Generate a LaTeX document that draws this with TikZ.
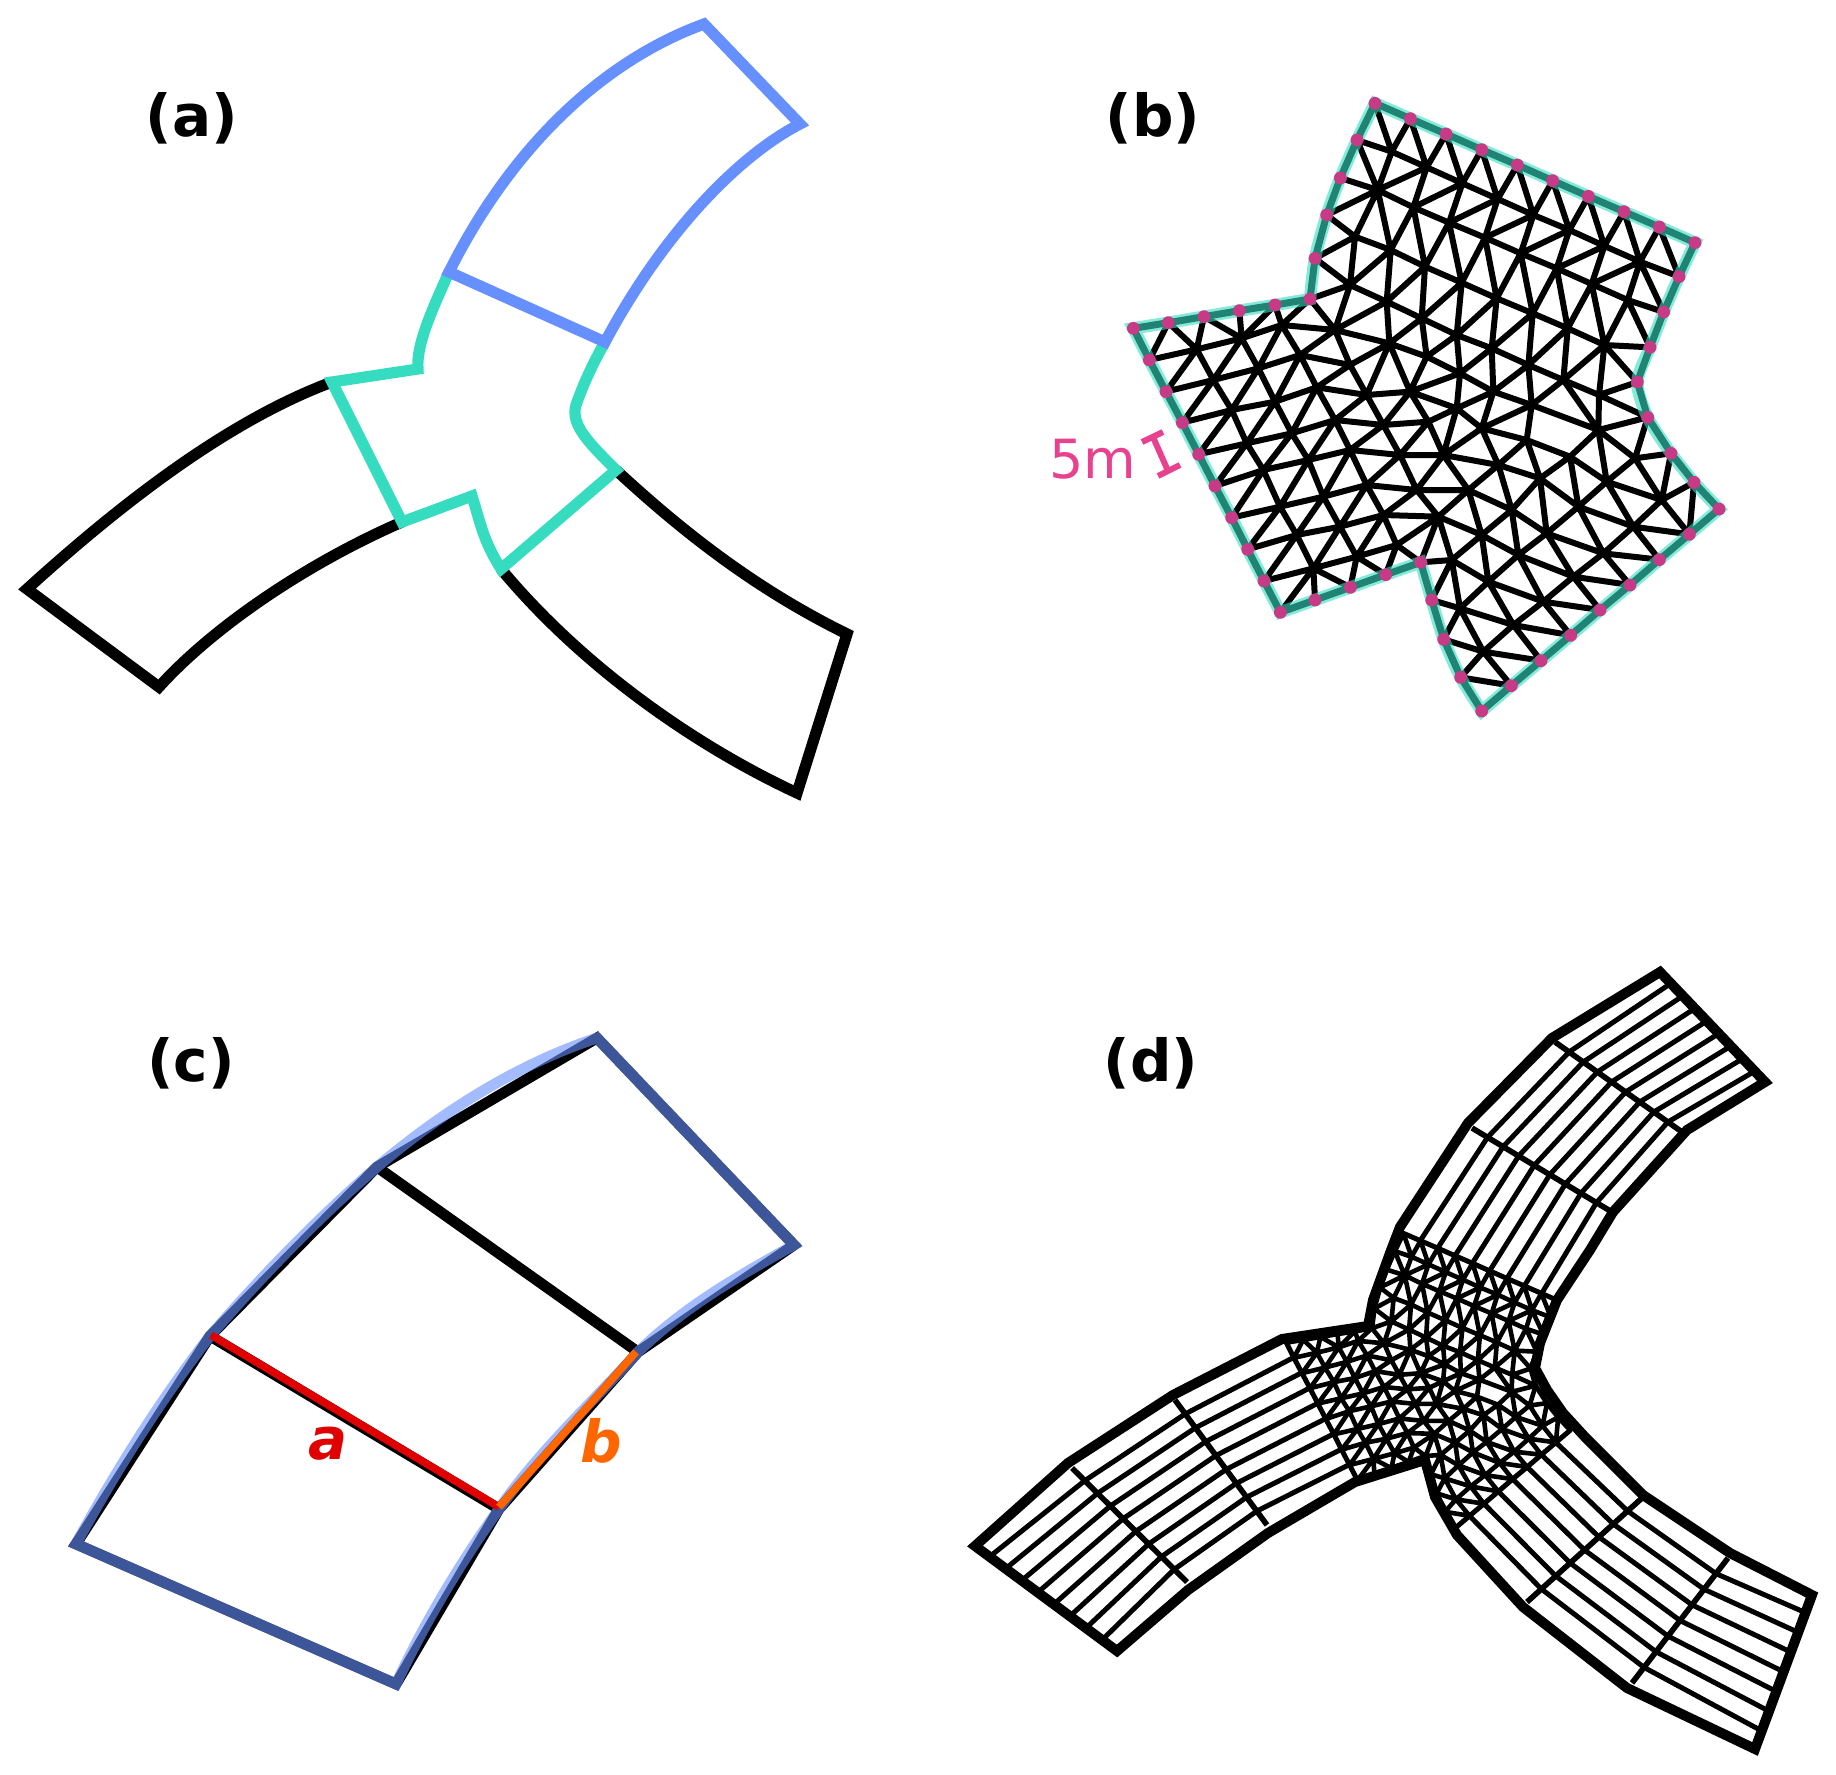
\documentclass[tikz,border=0pt]{standalone}
\usepackage{fontspec}
\setmainfont{DejaVu Sans}
\usetikzlibrary{calc}
\definecolor{cblue}{HTML}{6690FF}
\definecolor{cteal}{HTML}{35DCC0}
\definecolor{cred}{HTML}{E00000}
\definecolor{corange}{HTML}{FF6600}
\definecolor{cpink}{HTML}{E8428F}
\definecolor{cdot}{HTML}{C63A86}
\tikzset{
  heavy/.style={line width=5pt,line join=miter,miter limit=10},
  heavya/.style={heavy,line width=5.6pt},
  heavyc/.style={heavy,line width=5.4pt},
  meshline/.style={line join=round,line cap=round},
  panellabel/.style={font=\fontsize{29}{32}\selectfont\bfseries,inner sep=0pt},
  seglabel/.style={font=\fontsize{29}{32}\selectfont\bfseries\itshape,inner sep=0pt},
  gridline/.style={line width=2.5pt,line join=round},
}
\newcommand{\meshcoords}{%
\foreach \n/\x/\y in {
t0/825/70,t1/931/116,t2/1038/162,t3/1145/209,t4/1252/255,t5/1358/302,t6/1465/349,t7/1572/395,t8/1678/441,t9/1785/488,
r1/1737/590,r2/1691/696,r3/1650/802,r4/1612/906,r5/1643/1012,r6/1713/1120,r7/1782/1207,r8/1857/1287,
s1/1768/1363,s2/1678/1439,s3/1590/1515,s4/1500/1590,s5/1412/1666,s6/1323/1742,s7/1234/1817,s8/1145/1893,
u1/1082/1792,u2/1031/1678,u3/995/1560,n/962/1447,v3/857/1484,v2/751/1522,v1/645/1560,c/541/1597,
l7/492/1503,l6/443/1408,l5/395/1313,l4/345/1218,l3/296/1123,l2/247/1028,l1/198/935,l0/148/840,w/100/745,
w1/205/728,w2/312/710,w3/418/692,w4/525/675,nn/630/657,a1/645/535,a2/680/405,a3/721/294,a4/771/180,
p1/875/215,p2/980/262,p3/1087/310,p4/1193/357,p5/1300/405,p6/1408/450,p7/1513/498,p8/1620/545,
q1/833/330,q2/940/382,q3/1047/428,q4/1155/473,q5/1262/520,q6/1370/565,q7/1475/612,q8/1583/660,
e1/765/470,e2/872/510,e3/975/560,e4/1085/608,e5/1190/655,e6/1298/700,e7/1403/745,e8/1513/795,
f1/750/615,f2/860/665,f3/965/715,f4/1070/765,f5/1175/805,f6/1285/855,f7/1390/900,f8/1497/945,
g1/705/750,g2/868/790,g3/980/830,g4/1080/880,g5/1180/935,g6/1295/975,
h1/1495/1050,h2/1605/1135,h3/1685/1260,h4/1520/1205,h5/1410/1130,h6/1280/1080,h7/1145/1045,h9/1030/1125,
i1/1195/1155,i2/1320/1195,i3/1435/1280,i4/1340/1360,i5/1235/1290,i6/1105/1230,i7/1015/1310,
j1/1600/1340,j2/1510/1420,j3/1420/1490,j4/1330/1565,j5/1240/1635,j6/1150/1715,
k1/1255/1425,k2/1145/1365,k3/1055/1440,k4/1165/1505,k5/1080/1585,
m1/290/808,m2/425/775,m3/545/735,o1/340/900,o2/475/865,o3/600/825,o4/750/855,
c1/395/990,c2/525/965,c3/650/922,c4/800/945,c5/930/935,w7/1070/985,
d1/440/1090,d2/575/1060,d3/705/1020,d4/850/1035,d5/985/1025,
x1/490/1170,x2/625/1140,x3/750/1110,x4/900/1125,
y1/540/1280,y2/670/1250,y3/800/1215,y4/950/1230,
zb1/590/1365,zb2/720/1340,zb3/850/1305,
zz1/640/1465,zz2/770/1430,zz3/890/1395
}{\coordinate (\n) at (\x,\y);}%
}
\newcommand{\meshedges}{
(a4)--(p1)--(p2)--(p3)--(p4)--(p5)--(p6)--(p7)--(p8)--(r1)
(a3)--(q1)--(q2)--(q3)--(q4)--(q5)--(q6)--(q7)--(q8)--(r2)
(a2)--(e1)--(e2)--(e3)--(e4)--(e5)--(e6)--(e7)--(e8)--(r3)
(a1)--(f1)--(f2)--(f3)--(f4)--(f5)--(f6)--(f7)--(f8)--(r5)
(l0)--(m1)--(m2)--(m3)--(g1)--(g2)--(g3)--(g4)--(g5)--(g6)--(h1)--(r5)
(t0)--(p1)--(t1)--(p2)--(t2)--(p3)--(t3)--(p4)--(t4)--(p5)--(t5)--(p6)--(t6)--(p7)--(t7)--(p8)--(t8)--(r1)
(a4)--(q1) (p1)--(q1)--(p2)--(q2)--(p3)--(q3)--(p4)--(q4)--(p5)--(q5)--(p6)--(q6)--(p7)--(q7)--(p8)--(q8)
(p8)--(r2) (a2)--(q1)
(e1)--(q1)--(e2)--(q2)--(e3)--(q3)--(e4)--(q4)--(e5)--(q5)--(e6)--(q6)--(e7)--(q7)--(e8)--(q8)--(r3)
(a1)--(e1)--(f1)--(e2)--(f2)--(e3)--(f3)--(e4)--(f4)--(e5)--(f5)--(e6)--(f6)--(e7)--(f7)--(e8)--(f8)
(e8)--(r4)
(nn)--(f1)--(g1)--(f2)--(g2)--(f3)--(g3)--(f4)--(g4)--(f5)--(g5)--(f6)--(g6)--(f7)--(h1)--(f8)--(r4)
(l0)--(w1)--(m1)--(w2)--(m2)--(w3) (m2)--(w4)--(m3)--(nn)--(g1)
(l1)--(m1)--(o1)--(m2)--(o2)--(m3)--(o3)--(g1)--(o4)--(g2)
(l1)--(o1)--(o2)--(o3)--(o4)
(l2)--(o1)--(c1)--(o2)--(c2)--(o3)--(c3)--(o4)--(c4)--(g2)--(c5)--(g3)
(c5)--(g4)
(l2)--(c1)--(c2)--(c3)--(c4)--(c5)--(w7)--(g5)
(g4)--(w7)
(l3)--(c1)--(d1)--(c2)--(d2)--(c3)--(d3)--(c4)--(d4)--(c5)--(d5)--(w7)--(h7)--(g5)
(h7)--(g6)
(l3)--(d1)--(d2)--(d3)--(d4)--(d5)--(h9)--(w7)
(l4)--(d1)--(x1)--(d2)--(x2)--(d3)--(x3)--(d4)--(x4)--(d5)
(l4)--(x1)--(x2)--(x3)--(x4)--(h9)--(i1)--(i2)--(i3)--(j1)--(s1)
(h9)--(h7)--(i1)--(h6)
(h7)--(h6)--(h5)--(h4)--(h3)
(h6)--(g6) (h6)--(i2)--(h5)--(h1)
(l5)--(x1)--(y1)--(x2)--(y2)--(x3)--(y3)--(x4)--(y4)--(h9)--(i6)--(i1)--(i5)--(i2)--(i4)
(l5)--(y1)--(y2)--(y3)--(y4)--(i6)--(i5)--(i4)--(j2)--(s2)
(l6)--(y1)--(zb1)--(y2)--(zb2)--(y3)--(zb3)--(y4)--(i7)--(i6)--(k2)--(i5)--(k1)--(i4)--(j3)
(l6)--(zb1)--(zb2)--(zb3)--(i7)--(k2)--(k1)--(j3)--(s3)
(l7)--(zb1)--(zz1)--(zb2)--(zz2)--(zb3)--(zz3)--(i7)--(n)
(l7)--(zz1)--(zz2)--(zz3)--(n)--(k3)--(k4)--(j4)--(s4)
(c)--(zz1)--(v1) (zz1)--(v2)--(zz2)--(v3)--(zz3)
(i7)--(k3)--(k2)--(k4)--(k1)--(j4)--(j3)
(u3)--(k5)--(j5)--(s5)
(u3)--(k3)--(k5)--(k4)--(j5)--(j4)--(s5)
(u2)--(j6)--(s6)
(u2)--(k5)--(j6)--(j5)--(s6)
(u1)--(j6)--(s7) (u1)--(s7)
(i4)--(i3)--(h4)--(h2)--(r5)
(i3)--(h5) (i3)--(j2) (h4)--(j1)--(j2)--(j3)
(j1)--(h3) (j1)--(s2) (j2)--(s3) (j3)--(s4)
(h3)--(r6) (h3)--(r7) (h3)--(s1) (s1)--(r7)
(h2)--(h3) (h2)--(r6) (h1)--(h2) (h1)--(h4)
}
\newcommand{\meshboundary}{
(t0)--(t1)--(t2)--(t3)--(t4)--(t5)--(t6)--(t7)--(t8)--(t9)--(r1)--(r2)--(r3)--(r4)--(r5)--(r6)--(r7)--(r8)--(s1)--(s2)--(s3)--(s4)--(s5)--(s6)--(s7)--(s8)--(u1)--(u2)--(u3)--(n)--(v3)--(v2)--(v1)--(c)--(l7)--(l6)--(l5)--(l4)--(l3)--(l2)--(l1)--(l0)--(w)--(w1)--(w2)--(w3)--(w4)--(nn)--(a1)--(a2)--(a3)--(a4)--cycle
}
\newcommand{\meshcurved}{
(t0)--(t1)--(t2)--(t3)--(t4)--(t5)--(t6)--(t7)--(t8)--(t9)
 -- plot[smooth,tension=.5] coordinates {(t9)(r1)(r2)(r3)(r4)(r5)(r6)(r7)(r8)}
 --(s1)--(s2)--(s3)--(s4)--(s5)--(s6)--(s7)--(s8)
 -- plot[smooth,tension=.5] coordinates {(s8)(u1)(u2)(u3)(n)}
 --(v3)--(v2)--(v1)--(c)--(l7)--(l6)--(l5)--(l4)--(l3)--(l2)--(l1)--(l0)--(w)--(w1)--(w2)--(w3)--(w4)--(nn)
 -- plot[smooth,tension=.5] coordinates {(nn)(a1)(a2)(a3)(a4)(t0)}
 --cycle
}
\begin{document}
\begin{tikzpicture}[x=0.5pt,y=-0.5pt]
\useasboundingbox (0,0) rectangle (1836,1775);
% ---------- panel a
\coordinate (A1) at (704,24);
\coordinate (A2) at (800,124);
\coordinate (A3) at (605,342);
\coordinate (A4) at (449,272);
\coordinate (A5) at (418,369);
\coordinate (A6) at (332,382);
\coordinate (A7) at (402,522);
\coordinate (A8) at (472,496);
\coordinate (A9) at (501,569);
\coordinate (A10) at (616,470);
\coordinate (A11) at (576,405);
\coordinate (A12) at (27,589);
\coordinate (A13) at (159,687);
\coordinate (A14) at (847,634);
\coordinate (A15) at (797,793);
\draw[heavya] (A6) .. controls (230,420) and (125,500) .. (A12) -- (A13) .. controls (215,625) and (310,562) .. (A7);
\draw[heavya] (A10) .. controls (700,548) and (772,597) .. (A14) -- (A15) .. controls (700,748) and (585,670) .. (A9);
\draw[heavya,cteal] (A4) .. controls (432,310) and (416,345) .. (A5) -- (A6) -- (A7) -- (A8) .. controls (481,525) and (483,540) .. (A9) -- (A10) .. controls (590,444) and (570,425) .. (A11) .. controls (583,385) and (592,365) .. (A3);
\draw[heavya,cblue] (A1) -- (A2) .. controls (740,155) and (665,230) .. (A3) -- (A4) .. controls (510,150) and (600,62) .. cycle;
\node[panellabel] (la) at (192,118) {(a)};
% ---------- panel b
\begin{scope}[shift={(1100,80)},x=0.1666667pt,y=-0.1666667pt]
\meshcoords
\draw[meshline,line width=3pt] \meshedges;
\draw[line width=3.5pt,line join=miter] \meshboundary;
\draw[line width=6.2pt,cteal,opacity=.6,line join=miter] \meshcurved;
\foreach \n in {t0,t1,t2,t3,t4,t5,t6,t7,t8,t9,r1,r2,r3,r4,r5,r6,r7,r8,s1,s2,s3,s4,s5,s6,s7,s8,u1,u2,u3,n,v3,v2,v1,c,l7,l6,l5,l4,l3,l2,l1,l0,w,w1,w2,w3,w4,nn,a1,a2,a3,a4}
  \fill[cdot] (\n) circle (3.2pt);
\end{scope}
\coordinate (I1) at (1142,442);
\coordinate (I2) at (1163,432);
\coordinate (I3) at (1153,437);
\coordinate (I4) at (1168,471);
\coordinate (I5) at (1158,476);
\coordinate (I6) at (1180,465);
\draw[cpink,line width=3pt] (I1) -- (I2) (I3) -- (I4) (I5) -- (I6);
\node[cpink,anchor=base east,inner sep=0pt,font=\fontsize{27}{30}\selectfont] (fivem) at (1137,479) {5m};
\node[panellabel] (lb) at (1153,118) {(b)};
% ---------- panel c
\coordinate (C1) at (76,1544);
\coordinate (C2) at (210,1336);
\coordinate (C3) at (377,1167);
\coordinate (C4) at (597,1038);
\coordinate (C5) at (794,1245);
\coordinate (C6) at (638,1352);
\coordinate (C7) at (499,1509);
\coordinate (C8) at (396,1684);
\coordinate (C2a) at (211,1335);
\coordinate (C7a) at (499,1507);
\draw[heavyc] (C1) -- (C2) -- (C3) -- (C4) -- (C5) -- (C6) -- (C7) -- (C8) -- cycle;
\draw[heavyc] (C3) -- (C6);
\draw[heavyc] (C2) -- (C7);
\draw[heavyc,cblue,opacity=.6] (C1) .. controls (115.5,1471.5) and (159.5,1401.5) .. (C2)
   .. controls (262,1276) and (317,1219) .. (C3) .. controls (443,1111) and (518,1064) .. (C4)
   -- (C5) .. controls (733,1279) and (683,1308) .. (C6) .. controls (590,1405) and (540,1450) .. (C7)
   .. controls (461,1562) and (426,1620) .. (C8) -- cycle;
\draw[cred,line width=3.8pt] (C2a) -- (C7a);
\draw[corange,line width=3.8pt] (C7a) -- (636,1352);
\node[seglabel,cred] (la2) at (328,1444) {a};
\node[seglabel,corange] (lb2) at (601,1441) {b};
\node[panellabel] (lc) at (191,1063) {(c)};
% ---------- panel d
\coordinate (T0a) at (1660,970);\coordinate (T0b) at (1768,1083);
\coordinate (T1a) at (1555,1042);\coordinate (T1b) at (1682,1132);
\coordinate (T2a) at (1472,1128);\coordinate (T2b) at (1612,1212);
\coordinate (T3a) at (1403,1233);\coordinate (T3b) at (1559,1301);
\coordinate (L0a) at (972,1546);\coordinate (L0b) at (1117,1653);
\coordinate (L1a) at (1072,1468);\coordinate (L1b) at (1187,1582);
\coordinate (L2a) at (1175,1400);\coordinate (L2b) at (1267,1525);
\coordinate (L3a) at (1286,1342);\coordinate (L3b) at (1357,1480);
\coordinate (R0a) at (1813,1593);\coordinate (R0b) at (1757,1752);
\coordinate (R1a) at (1728,1558);\coordinate (R1b) at (1632,1683);
\coordinate (R2a) at (1642,1498);\coordinate (R2b) at (1527,1602);
\coordinate (R3a) at (1570,1430);\coordinate (R3b) at (1455,1528);
\foreach \i in {1,...,8}{
  \pgfmathsetmacro\f{\i/9}
  \draw[gridline] ($(T0a)!\f!(T0b)$) -- ($(T1a)!\f!(T1b)$) -- ($(T2a)!\f!(T2b)$) -- ($(T3a)!\f!(T3b)$);
  \draw[gridline] ($(L0a)!\f!(L0b)$) -- ($(L1a)!\f!(L1b)$) -- ($(L2a)!\f!(L2b)$) -- ($(L3a)!\f!(L3b)$);
}
\foreach \i in {1,...,7}{
  \pgfmathsetmacro\f{\i/8}
  \draw[gridline] ($(R0a)!\f!(R0b)$) -- ($(R1a)!\f!(R1b)$) -- ($(R2a)!\f!(R2b)$) -- ($(R3a)!\f!(R3b)$);
}
\draw[gridline,line width=2.8pt] (T1a) -- (T1b) (T2a) -- (T2b) (L1a) -- (L1b) (L2a) -- (L2b) (R1a) -- (R1b) (R2a) -- (R2b);
\begin{scope}[shift={(1270,1222)},x=0.08085pt,y=-0.08085pt]
\meshcoords
\draw[meshline,line width=2.3pt] \meshedges;
\draw[line width=2.5pt,line join=round] \meshboundary;
\end{scope}
\foreach \n/\x/\y in {d1/1660/972,d2/1765/1082,d3/1687/1130,d4/1613/1212,d5/1590/1250,d6/1557/1300,d7/1540/1343,d8/1535/1368,d9/1547/1390,d10/1563/1413,d11/1585/1437,d12/1643/1495,d13/1730/1553,d14/1812/1595,d15/1755/1749,d16/1627/1688,d17/1523/1607,d18/1457/1535,d19/1435/1497,d20/1425/1460,d21/1355/1482,d22/1268/1533,d23/1188/1590,d24/1117/1651,d25/975/1546,d26/1068/1463,d27/1173/1395,d28/1282/1339,d29/1368/1326,d30/1373/1300,d31/1390/1253,d32/1400/1227,d33/1468/1123,d34/1552/1038}
  {\coordinate (O\n) at (\x,\y);}
\draw[heavy] (Od1)--(Od2)--(Od3)--(Od4)--(Od5)--(Od6)--(Od7)--(Od8)--(Od9)--(Od10)--(Od11)--(Od12)--(Od13)--(Od14)--(Od15)--(Od16)--(Od17)--(Od18)--(Od19)--(Od20)--(Od21)--(Od22)--(Od23)--(Od24)--(Od25)--(Od26)--(Od27)--(Od28)--(Od29)--(Od30)--(Od31)--(Od32)--(Od33)--(Od34)--cycle;
\node[panellabel] (ld) at (1151,1063) {(d)};
\end{tikzpicture}
\end{document}
